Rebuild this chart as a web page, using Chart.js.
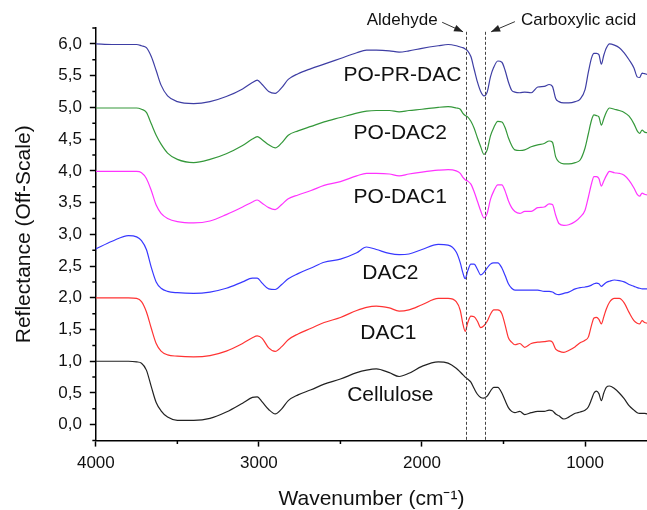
<!DOCTYPE html>
<html>
<head>
<meta charset="utf-8">
<script src="https://cdn.jsdelivr.net/npm/chart.js@4.4.1/dist/chart.umd.min.js"></script>
<style>
  html, body { margin: 0; padding: 0; background: #fff; }
  #wrap { width: 647px; height: 510px; }
</style>
</head>
<body>
<div id="wrap"><canvas id="ftirChart"></canvas></div>
<script>
// wavenumber grid shared by every spectrum (cm-1)
const wavenumbers = [4000, 3900, 3800, 3750, 3720, 3690, 3660, 3630, 3600, 3560, 3500, 3400, 3300, 3200, 3100, 3040, 3010, 2980, 2940, 2900, 2860, 2820, 2760, 2680, 2600, 2500, 2400, 2340, 2280, 2200, 2140, 2080, 2000, 1900, 1840, 1790, 1765, 1750, 1735, 1720, 1700, 1680, 1660, 1640, 1620, 1600, 1580, 1560, 1535, 1510, 1490, 1470, 1450, 1430, 1400, 1370, 1330, 1290, 1250, 1220, 1200, 1180, 1160, 1130, 1100, 1060, 1030, 1000, 980, 960, 945, 930, 915, 900, 885, 870, 850, 820, 790, 760, 730, 700, 680, 665, 650, 635, 620];

// offset reflectance of each sample
const cellulose = [1.00, 1.00, 1.00, 0.99, 0.97, 0.86, 0.60, 0.35, 0.22, 0.12, 0.07, 0.07, 0.10, 0.20, 0.34, 0.43, 0.44, 0.36, 0.24, 0.17, 0.25, 0.38, 0.47, 0.55, 0.64, 0.72, 0.82, 0.86, 0.88, 0.82, 0.76, 0.81, 0.92, 0.99, 0.97, 0.89, 0.83, 0.79, 0.75, 0.72, 0.67, 0.57, 0.48, 0.43, 0.42, 0.45, 0.53, 0.59, 0.59, 0.50, 0.38, 0.27, 0.21, 0.19, 0.21, 0.16, 0.19, 0.21, 0.21, 0.23, 0.22, 0.17, 0.14, 0.09, 0.12, 0.18, 0.20, 0.23, 0.28, 0.40, 0.50, 0.53, 0.49, 0.38, 0.50, 0.59, 0.61, 0.57, 0.50, 0.41, 0.30, 0.23, 0.19, 0.18, 0.18, 0.18, 0.17];
const dac1 = [2.00, 2.00, 2.00, 1.99, 1.94, 1.78, 1.52, 1.28, 1.16, 1.10, 1.08, 1.07, 1.09, 1.16, 1.28, 1.37, 1.40, 1.36, 1.21, 1.155, 1.23, 1.34, 1.43, 1.52, 1.61, 1.69, 1.80, 1.85, 1.87, 1.84, 1.79, 1.81, 1.89, 1.99, 1.99, 1.94, 1.80, 1.60, 1.47, 1.60, 1.71, 1.70, 1.63, 1.53, 1.56, 1.63, 1.74, 1.81, 1.81, 1.75, 1.57, 1.37, 1.30, 1.26, 1.28, 1.22, 1.28, 1.30, 1.31, 1.32, 1.30, 1.19, 1.16, 1.14, 1.17, 1.23, 1.29, 1.33, 1.38, 1.57, 1.68, 1.69, 1.66, 1.59, 1.70, 1.82, 1.93, 1.99, 1.99, 1.92, 1.77, 1.64, 1.60, 1.59, 1.64, 1.61, 1.60];
const dac2 = [2.77, 2.89, 2.98, 2.96, 2.90, 2.76, 2.48, 2.25, 2.15, 2.10, 2.08, 2.07, 2.09, 2.15, 2.25, 2.31, 2.31, 2.23, 2.14, 2.13, 2.21, 2.30, 2.38, 2.47, 2.56, 2.61, 2.71, 2.80, 2.76, 2.70, 2.68, 2.69, 2.76, 2.84, 2.83, 2.72, 2.55, 2.40, 2.30, 2.42, 2.53, 2.53, 2.45, 2.36, 2.40, 2.47, 2.53, 2.55, 2.55, 2.47, 2.35, 2.22, 2.15, 2.12, 2.12, 2.12, 2.12, 2.12, 2.10, 2.10, 2.09, 2.06, 2.05, 2.07, 2.09, 2.14, 2.16, 2.17, 2.18, 2.20, 2.22, 2.23, 2.22, 2.18, 2.21, 2.24, 2.26, 2.28, 2.27, 2.25, 2.21, 2.18, 2.16, 2.15, 2.14, 2.14, 2.14];
const poDac1 = [3.99, 3.99, 3.99, 3.99, 3.97, 3.88, 3.69, 3.46, 3.33, 3.25, 3.20, 3.18, 3.21, 3.31, 3.43, 3.51, 3.54, 3.49, 3.42, 3.39, 3.47, 3.56, 3.62, 3.69, 3.77, 3.83, 3.92, 3.96, 3.96, 3.95, 3.92, 3.95, 3.98, 4.01, 4.02, 4.00, 3.96, 3.90, 3.86, 3.84, 3.79, 3.67, 3.52, 3.37, 3.26, 3.33, 3.55, 3.68, 3.78, 3.78, 3.68, 3.53, 3.42, 3.36, 3.33, 3.36, 3.36, 3.42, 3.43, 3.48, 3.47, 3.30, 3.17, 3.14, 3.15, 3.20, 3.27, 3.38, 3.58, 3.80, 3.91, 3.91, 3.88, 3.76, 3.84, 3.92, 3.99, 3.97, 3.96, 3.93, 3.85, 3.73, 3.63, 3.60, 3.65, 3.63, 3.62];
const poDac2 = [4.99, 4.99, 4.99, 4.99, 4.97, 4.92, 4.74, 4.56, 4.42, 4.28, 4.18, 4.13, 4.18, 4.27, 4.40, 4.50, 4.54, 4.49, 4.41, 4.36, 4.44, 4.56, 4.63, 4.70, 4.77, 4.84, 4.91, 4.94, 4.95, 4.95, 4.93, 4.95, 4.97, 5.00, 5.01, 4.99, 4.97, 4.91, 4.87, 4.85, 4.78, 4.67, 4.52, 4.38, 4.26, 4.33, 4.55, 4.68, 4.78, 4.77, 4.68, 4.52, 4.40, 4.33, 4.32, 4.33, 4.38, 4.41, 4.43, 4.47, 4.45, 4.22, 4.14, 4.11, 4.11, 4.13, 4.17, 4.36, 4.58, 4.80, 4.88, 4.87, 4.85, 4.72, 4.82, 4.92, 4.99, 4.97, 4.95, 4.92, 4.86, 4.74, 4.63, 4.59, 4.64, 4.61, 4.60];
const poPrDac = [6.00, 5.99, 5.99, 5.99, 5.97, 5.94, 5.80, 5.58, 5.35, 5.18, 5.09, 5.06, 5.09, 5.17, 5.29, 5.39, 5.43, 5.36, 5.25, 5.22, 5.31, 5.44, 5.53, 5.61, 5.68, 5.77, 5.86, 5.90, 5.90, 5.89, 5.87, 5.89, 5.93, 5.97, 5.99, 5.97, 5.95, 5.94, 5.92, 5.89, 5.80, 5.60, 5.40, 5.25, 5.18, 5.24, 5.48, 5.63, 5.73, 5.71, 5.58, 5.40, 5.27, 5.24, 5.23, 5.24, 5.23, 5.32, 5.33, 5.36, 5.33, 5.14, 5.09, 5.07, 5.07, 5.09, 5.13, 5.28, 5.55, 5.78, 5.85, 5.85, 5.83, 5.68, 5.82, 5.93, 6.00, 5.98, 5.94, 5.86, 5.75, 5.62, 5.48, 5.47, 5.54, 5.53, 5.52];

const sampleNames = ["Cellulose", "DAC1", "DAC2", "PO-DAC1", "PO-DAC2", "PO-PR-DAC"];
const xTicks = [4000, 3000, 2000, 1000];
const xMinorTicks = [3500, 2500, 1500];
const yTicks = [0, 0.5, 1, 1.5, 2, 2.5, 3, 3.5, 4, 4.5, 5, 5.5, 6];
const yMinorTicks = [-0.25, 0.25, 0.75, 1.25, 1.75, 2.25, 2.75, 3.25, 3.75, 4.25, 4.75, 5.25, 5.75, 6.25];
// aldehyde C=O and carboxylic acid C=O bands
const bandMarkers = [1733, 1615];

const FONT = "'Liberation Sans', Arial, Helvetica, sans-serif";
const colors = ["#222222", "#ff3333", "#3838ff", "#ff33ff", "#34983a", "#3e3ea4"];
const spectra = [cellulose, dac1, dac2, poDac1, poDac2, poPrDac];

// where each sample name sits, in axis units
const nameSpots = [
  { x: 2194, y: 0.46 },
  { x: 2206, y: 1.44 },
  { x: 2194, y: 2.38 },
  { x: 2133, y: 3.58 },
  { x: 2133, y: 4.59 },
  { x: 2120, y: 5.50 }
];

function arrow(ctx, x1, y1, x2, y2) {
  ctx.beginPath();
  ctx.moveTo(x1, y1);
  ctx.lineTo(x2, y2);
  ctx.stroke();
  const a = Math.atan2(y2 - y1, x2 - x1);
  const len = 9, half = 3.5;
  ctx.beginPath();
  ctx.moveTo(x2, y2);
  ctx.lineTo(x2 - len * Math.cos(a) + half * Math.sin(a), y2 - len * Math.sin(a) - half * Math.cos(a));
  ctx.lineTo(x2 - len * Math.cos(a) - half * Math.sin(a), y2 - len * Math.sin(a) + half * Math.cos(a));
  ctx.closePath();
  ctx.fill();
}

const decorations = {
  id: "decorations",
  afterDraw(chart) {
    const { ctx, chartArea, scales: { x, y } } = chart;
    ctx.save();

    // minor ticks
    ctx.strokeStyle = "#000";
    ctx.lineWidth = 1.5;
    ctx.beginPath();
    xMinorTicks.forEach(v => {
      const px = x.getPixelForValue(v);
      ctx.moveTo(px, chartArea.bottom);
      ctx.lineTo(px, chartArea.bottom + 3.5);
    });
    yMinorTicks.forEach(v => {
      const py = y.getPixelForValue(v);
      ctx.moveTo(chartArea.left - 3.5, py);
      ctx.lineTo(chartArea.left, py);
    });
    ctx.stroke();

    // dashed band markers
    ctx.strokeStyle = "#444";
    ctx.lineWidth = 1;
    ctx.setLineDash([3, 2]);
    bandMarkers.forEach(v => {
      const px = Math.round(x.getPixelForValue(v)) + 0.5;
      ctx.beginPath();
      ctx.moveTo(px, y.getPixelForValue(6.19));
      ctx.lineTo(px, chartArea.bottom);
      ctx.stroke();
    });
    ctx.setLineDash([]);

    // sample names
    ctx.fillStyle = "#111";
    ctx.font = "21px " + FONT;
    ctx.textAlign = "center";
    ctx.textBaseline = "middle";
    sampleNames.forEach((name, i) => {
      ctx.fillText(name, x.getPixelForValue(nameSpots[i].x), y.getPixelForValue(nameSpots[i].y));
    });

    // band annotations
    ctx.font = "17px " + FONT;
    ctx.fillStyle = "#111";
    ctx.strokeStyle = "#333";
    ctx.lineWidth = 1;
    ctx.textAlign = "right";
    ctx.fillText("Aldehyde", x.getPixelForValue(1904), y.getPixelForValue(6.37));
    ctx.textAlign = "left";
    ctx.fillText("Carboxylic acid", x.getPixelForValue(1393), y.getPixelForValue(6.37));
    ctx.fillStyle = "#222";
    arrow(ctx, x.getPixelForValue(1876), y.getPixelForValue(6.34), x.getPixelForValue(1748), y.getPixelForValue(6.19));
    arrow(ctx, x.getPixelForValue(1430), y.getPixelForValue(6.35), x.getPixelForValue(1576), y.getPixelForValue(6.19));

    ctx.restore();
  }
};

const ctx = document.getElementById("ftirChart").getContext("2d");
const chart = new Chart(ctx, {
  type: "line",
  data: {
    datasets: spectra.map((vals, i) => ({
      label: sampleNames[i],
      data: vals.map((v, k) => ({ x: wavenumbers[k], y: v })),
      borderColor: colors[i],
      borderWidth: 1.2,
      pointRadius: 0,
      cubicInterpolationMode: "monotone",
      fill: false
    }))
  },
  options: {
    responsive: true,
    maintainAspectRatio: false,
    animation: false,
    layout: { padding: { top: 28, right: 0, bottom: 0, left: 10 } },
    plugins: {
      legend: { display: false },
      tooltip: { enabled: false }
    },
    scales: {
      x: {
        type: "linear",
        reverse: true,
        min: 620,
        max: 4000,
        afterBuildTicks: scale => { scale.ticks = xTicks.map(v => ({ value: v })); },
        border: { color: "#000", width: 1.5 },
        grid: { drawOnChartArea: false, drawTicks: true, tickLength: 6, tickColor: "#000", tickWidth: 1.5 },
        ticks: {
          padding: 7,
          color: "#111",
          font: { family: FONT, size: 17 },
          maxRotation: 0,
          callback: v => String(v)
        },
        title: {
          display: true,
          text: "Wavenumber (cm\u207B\u00B9)",
          color: "#111",
          font: { family: FONT, size: 21, lineHeight: 1.0 },
          padding: { top: 8, bottom: 0 }
        }
      },
      y: {
        type: "linear",
        min: -0.25,
        max: 6.25,
        afterBuildTicks: scale => { scale.ticks = yTicks.map(v => ({ value: v })); },
        border: { color: "#000", width: 1.5 },
        grid: { drawOnChartArea: false, drawTicks: true, tickLength: 6, tickColor: "#000", tickWidth: 1.5 },
        ticks: {
          padding: 8,
          color: "#111",
          font: { family: FONT, size: 17 },
          callback: v => v.toFixed(1).replace(".", ",")
        },
        title: {
          display: true,
          text: "Reflectance (Off-Scale)",
          color: "#111",
          font: { family: FONT, size: 21 },
          padding: { top: 2, bottom: 13 }
        }
      }
    }
  },
  plugins: [decorations]
});
</script>
</body>
</html>
